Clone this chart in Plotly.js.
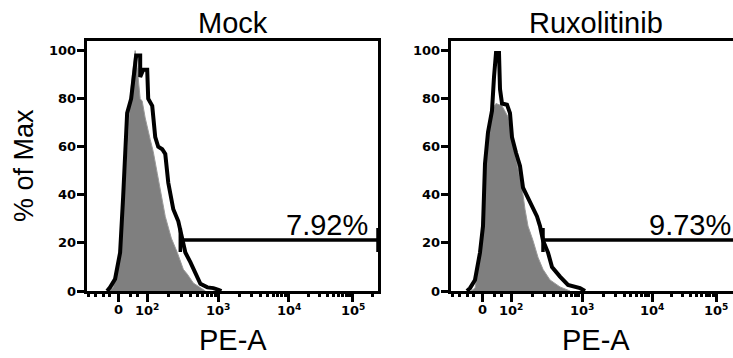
<!DOCTYPE html>
<html>
<head>
<meta charset="utf-8">
<script src="https://cdn.plot.ly/plotly-3.0.1.min.js"></script>
<style>
  html, body { margin: 0; padding: 0; overflow: hidden; background: #fff; }
  #chart { width: 745px; height: 358px; }
</style>
</head>
<body>
<div id="chart"></div>
<script>
// ---- data (x in display channels of the biexponential PE-A scale, y in % of Max) ----
const panelTitles = ['Mock', 'Ruxolitinib'];
const gatePercents = ['7.92%', '9.73%'];

const xTickVals = [31, 60, 131, 201, 265];
const xTickText = ['0', '10<sup>2</sup>', '10<sup>3</sup>', '10<sup>4</sup>', '10<sup>5</sup>'];
const xLowMinorTicks = [1, 8, 16, 22, 43, 50];
const yTickVals = [0, 20, 40, 60, 80, 100];

// Mock panel
const mockSampleX = [20, 23, 28, 33, 36, 38, 40, 44, 46, 49, 53, 53, 56, 60, 61, 65, 68, 71, 75, 78, 81, 86, 91, 95, 98, 103, 108, 113, 120, 126, 131, 134];
const mockSampleY = [0, 1.5, 5, 16, 39, 56, 74, 80, 88, 98, 98, 89, 92, 92, 80, 77, 64, 60, 59, 57, 45, 34, 29, 21, 16, 12, 7.5, 3, 1.5, 1.2, 0.5, 0];
const mockControlX = [22, 26, 31, 34, 37, 39, 41, 43, 45, 47, 48, 50, 53, 55, 58, 63, 66, 70, 73, 78, 84, 90, 96, 100, 106, 114, 118];
const mockControlY = [0, 1.5, 12, 24, 40, 55, 66, 80, 89, 98, 100, 93, 80, 79, 72, 63, 58, 49, 42, 31, 22, 16, 9, 7, 3.3, 1.2, 0];

// Ruxolitinib panel
const ruxSampleX = [16, 19, 24, 29, 32, 34, 37, 41, 43, 45, 48, 49, 51, 56, 59, 61, 65, 69, 72, 77, 82, 86, 89, 92, 97, 101, 109, 117, 129, 134];
const ruxSampleY = [0, 1.2, 4.6, 16, 27, 53, 66, 75, 89, 99, 99, 84, 78, 77.5, 74, 64, 57.5, 52, 43, 39, 35, 31, 27, 21, 16, 10, 6, 2.5, 1.2, 0];
const ruxControlX = [20, 24, 29, 32, 37, 42, 45, 51, 57, 61, 66, 71, 74, 77, 82, 87, 92, 99, 109, 116, 119];
const ruxControlY = [0, 1.2, 14, 35, 63, 76, 78, 77, 72.5, 63, 53, 43, 34, 27, 21, 14, 9, 4.6, 1.7, 0.5, 0];

// gates (display channels) and gate height (% of Max)
const gateStart = [93, 92];
const gateEnd = [290, 290];
const gateLevel = [21.2, 21.2];

// ---- build ----
const xRange = [0, 290];
const yRange = [0, 104];

// log minor ticks inside each decade
const minorTicks = xLowMinorTicks.slice();
const decades = xTickVals.slice(1);
for (let i = 0; i < decades.length; i++) {
  const a = decades[i];
  const w = (i + 1 < decades.length) ? decades[i + 1] - a : decades[i] - decades[i - 1];
  for (let m = 2; m <= 9; m++) {
    const v = a + Math.log10(m) * w;
    if (v < xRange[1]) minorTicks.push(v);
  }
}

const samples = [[mockSampleX, mockSampleY], [ruxSampleX, ruxSampleY]];
const controls = [[mockControlX, mockControlY], [ruxControlX, ruxControlY]];

const traces = [];
const annotations = [];
const FONT = 'Liberation Sans, Arial, Helvetica, sans-serif';
const TICKFONT = { family: 'DejaVu Sans, sans-serif', size: 13, color: '#000', weight: 'bold' };
const gateCap = 5;

for (let p = 0; p < 2; p++) {
  const xa = p === 0 ? 'x' : 'x2';
  const ya = p === 0 ? 'y' : 'y2';
  traces.push({
    type: 'scatter', mode: 'lines', xaxis: xa, yaxis: ya,
    x: controls[p][0], y: controls[p][1],
    fill: 'tozeroy', fillcolor: '#7f7f7f',
    line: { color: '#9a9a9a', width: 1 },
    hoverinfo: 'skip'
  });
  traces.push({
    type: 'scatter', mode: 'lines', xaxis: xa, yaxis: ya,
    x: samples[p][0], y: samples[p][1],
    line: { color: '#000', width: 4 },
    hoverinfo: 'skip'
  });
  const gs = gateStart[p], ge = gateEnd[p], gl = gateLevel[p];
  traces.push({
    type: 'scatter', mode: 'lines', xaxis: xa, yaxis: ya,
    x: [gs, gs, gs, ge, ge, ge],
    y: [gl - gateCap, gl + gateCap, gl, gl, gl + gateCap, gl - gateCap],
    line: { color: '#000', width: 3.5 },
    cliponaxis: false,
    hoverinfo: 'skip'
  });
  annotations.push({
    xref: xa, yref: ya, x: 282, y: gl, xanchor: 'right', yanchor: 'bottom',
    yshift: -3, text: gatePercents[p], showarrow: false,
    font: { family: FONT, size: 29, color: '#000' }
  });
  annotations.push({
    xref: xa + ' domain', yref: 'paper', x: 0.5, y: 1, xanchor: 'center', yanchor: 'bottom',
    yshift: 0, text: panelTitles[p], showarrow: false,
    font: { family: FONT, size: 29, color: '#000' }
  });
  annotations.push({
    xref: xa + ' domain', yref: 'paper', x: 0.5, y: 0, xanchor: 'center', yanchor: 'top',
    yshift: -31, text: 'PE-A', showarrow: false,
    font: { family: FONT, size: 29, color: '#000' }
  });
  // tick labels
  for (let i = 0; i < yTickVals.length; i++) {
    annotations.push({
      xref: xa + ' domain', yref: ya, x: 0, y: yTickVals[i], xanchor: 'right', yanchor: 'middle',
      xshift: -9, text: String(yTickVals[i]), showarrow: false, font: TICKFONT
    });
  }
  for (let i = 0; i < xTickVals.length; i++) {
    annotations.push({
      xref: xa, yref: ya, x: xTickVals[i], y: yRange[0], xanchor: 'center', yanchor: 'top',
      yshift: -9, text: xTickText[i], showarrow: false, font: TICKFONT
    });
  }
}
annotations.push({
  xref: 'paper', yref: 'paper', x: 24 / 745, y: 0.5, xanchor: 'center', yanchor: 'middle',
  textangle: -90, text: '% of Max', showarrow: false,
  font: { family: FONT, size: 27, color: '#000' }
});

function xAxis(domain, anchor) {
  return {
    domain: domain, anchor: anchor, range: xRange, fixedrange: true,
    showline: true, mirror: true, linecolor: '#000', linewidth: 3,
    showgrid: false, zeroline: false, showticklabels: false,
    tickmode: 'array', tickvals: xTickVals,
    ticks: 'outside', ticklen: 8, tickwidth: 3, tickcolor: '#000'
  };
}
function minorAxis(domain, anchor, over) {
  return {
    domain: domain, anchor: anchor, overlaying: over, range: xRange, fixedrange: true,
    showline: false, showgrid: false, zeroline: false, showticklabels: false,
    tickmode: 'array', tickvals: minorTicks,
    ticks: 'outside', ticklen: 5, tickwidth: 3, tickcolor: '#000'
  };
}
function yAxis(anchor) {
  return {
    domain: [0, 1], anchor: anchor, range: yRange, fixedrange: true,
    showline: true, mirror: true, linecolor: '#000', linewidth: 3,
    showgrid: false, zeroline: false, showticklabels: false,
    tickmode: 'array', tickvals: yTickVals,
    ticks: 'outside', ticklen: 7, tickwidth: 3, tickcolor: '#000'
  };
}

const W = 745;
const dom1 = [87 / W, 378 / W];
const dom2 = [451 / W, 741 / W];
const layout = {
  width: W, height: 358,
  margin: { l: 0, r: 0, t: 41, b: 67 },
  paper_bgcolor: '#fff', plot_bgcolor: '#fff',
  showlegend: false,
  xaxis: xAxis(dom1, 'y'),
  yaxis: yAxis('x'),
  xaxis2: xAxis(dom2, 'y2'),
  yaxis2: yAxis('x2'),
  xaxis3: minorAxis(dom1, 'y', 'x'),
  xaxis4: minorAxis(dom2, 'y2', 'x2'),
  annotations: annotations
};

// empty carrier traces so the minor-tick axes are drawn
traces.push({ type: 'scatter', mode: 'lines', xaxis: 'x3', yaxis: 'y', x: [], y: [], hoverinfo: 'skip' });
traces.push({ type: 'scatter', mode: 'lines', xaxis: 'x4', yaxis: 'y2', x: [], y: [], hoverinfo: 'skip' });

Plotly.newPlot('chart', traces, layout, { displayModeBar: false, staticPlot: true });
</script>
</body>
</html>
